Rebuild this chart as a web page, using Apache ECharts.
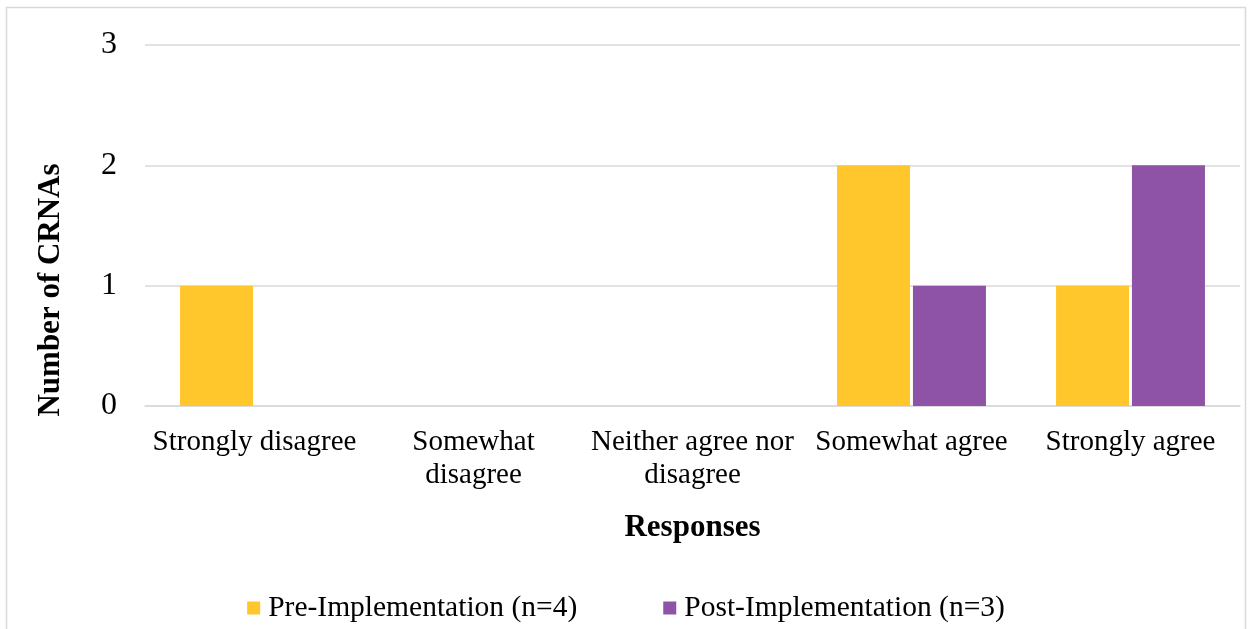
<!DOCTYPE html>
<html>
<head>
    <meta charset="utf-8">
    <title>Number of CRNAs by response</title>
    <script src="https://cdn.jsdelivr.net/npm/echarts@6/dist/echarts.min.js"></script>
    <style>
        html, body { margin: 0; padding: 0; background: #fff; }
        #main { width: 1252px; height: 629px; }
    </style>
</head>
<body>
    <div id="main"></div>
    <script type="text/javascript">
        // data
        var categories = ['Strongly disagree', 'Somewhat\ndisagree', 'Neither agree nor\ndisagree', 'Somewhat agree', 'Strongly agree'];
        var preValues = [1, 0, 0, 2, 1];
        var postValues = [0, 0, 0, 1, 2];
        var yTicks = [0, 1, 2, 3];

        var font = '"Liberation Serif", "Times New Roman", serif';

        var myChart = echarts.init(document.getElementById('main'));
        var option = {
            animation: false,
            textStyle: { fontFamily: font },
            grid: { left: 145, right: 12, top: 45, bottom: 223 },
            legend: {
                bottom: 1,
                left: 'center',
                itemWidth: 13,
                itemHeight: 13,
                itemGap: 86,
                icon: 'rect',
                textStyle: { fontFamily: font, fontSize: 29.5, color: '#000', padding: [0, 0, 0, 3] },
                data: ['Pre-Implementation (n=4)', 'Post-Implementation (n=3)']
            },
            xAxis: {
                type: 'category',
                data: categories,
                name: 'Responses',
                nameLocation: 'middle',
                nameGap: 106,
                nameTextStyle: { fontFamily: font, fontSize: 31, fontWeight: 'bold', color: '#000' },
                axisLine: { lineStyle: { color: '#d9d9d9', width: 1.5 } },
                axisTick: { show: false },
                axisLabel: { fontFamily: font, fontSize: 29, color: '#000', margin: 20, lineHeight: 33, interval: 0 }
            },
            yAxis: {
                type: 'value',
                min: yTicks[0],
                max: yTicks[yTicks.length - 1],
                interval: 1,
                axisLine: { show: false },
                axisTick: { show: false },
                splitLine: { lineStyle: { color: '#d9d9d9', width: 1.5 } },
                axisLabel: { fontFamily: font, fontSize: 32, color: '#000', margin: 28 }
            },
            graphic: [
                {
                    type: 'rect',
                    shape: { x: 6.5, y: 7.5, width: 1239, height: 640 },
                    style: { fill: 'none', stroke: '#d9d9d9', lineWidth: 1.5 },
                    silent: true
                },
                {
                    type: 'text',
                    x: 51,
                    y: 290,
                    rotation: Math.PI / 2,
                    style: {
                        text: 'Number of CRNAs',
                        font: 'bold 31px ' + font,
                        fill: '#000',
                        align: 'center',
                        verticalAlign: 'middle'
                    }
                }
            ],
            series: [
                {
                    name: 'Pre-Implementation (n=4)',
                    type: 'bar',
                    data: preValues,
                    barCategoryGap: '32%',
                    barGap: '4%',
                    itemStyle: { color: '#ffc72c' }
                },
                {
                    name: 'Post-Implementation (n=3)',
                    type: 'bar',
                    data: postValues,
                    itemStyle: { color: '#8e53a6' }
                }
            ]
        };
        myChart.setOption(option);
    </script>
</body>
</html>
